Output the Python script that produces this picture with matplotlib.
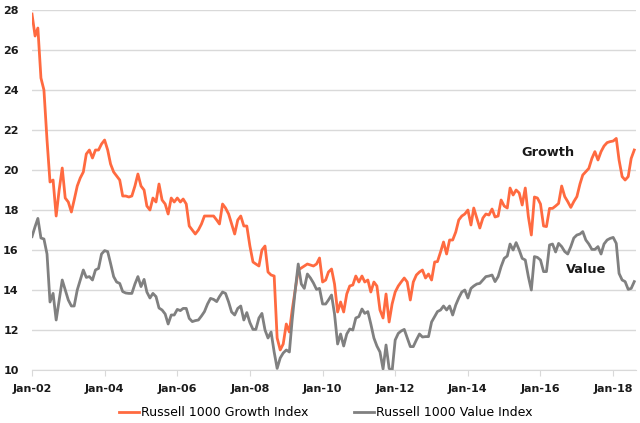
import matplotlib
matplotlib.use("Agg")
import matplotlib.pyplot as plt
import matplotlib.dates as mdates
import pandas as pd

# monthly values, Jan 2002 .. Aug 2018
growth = [
    27.8, 26.7, 27.1, 24.6, 24.0, 21.5, 19.4, 19.5, 17.7, 19.0, 20.1, 18.6,
    18.4, 17.9, 18.5, 19.2, 19.6, 19.9, 20.8, 21.0, 20.6, 21.0, 21.0, 21.3,
    21.5, 21.0, 20.3, 19.9, 19.7, 19.5, 18.7, 18.7, 18.65, 18.7, 19.2, 19.8,
    19.2, 19.0, 18.2, 18.0, 18.6, 18.4, 19.3, 18.5, 18.3, 17.8, 18.6, 18.4,
    18.6, 18.4, 18.55, 18.3, 17.2, 17.0, 16.8, 17.0, 17.3, 17.7, 17.7, 17.7,
    17.7, 17.5, 17.3, 18.3, 18.1, 17.8, 17.3, 16.8, 17.5, 17.7, 17.2, 17.2,
    16.2, 15.4, 15.3, 15.2, 16.0, 16.2, 14.9, 14.75, 14.7, 11.6, 11.0, 11.3,
    12.3, 11.9, 13.0, 14.0, 15.0, 15.1, 15.2, 15.3, 15.25, 15.2, 15.3, 15.6,
    14.4, 14.5, 14.9, 15.05, 14.3, 12.9, 13.4, 12.9, 13.8, 14.2, 14.25, 14.7,
    14.4, 14.7, 14.4, 14.5, 13.9, 14.4, 14.2, 13.0, 12.6, 13.8, 12.4, 13.3,
    13.9, 14.2, 14.4, 14.6, 14.4, 13.5, 14.4, 14.75, 14.9, 15.0, 14.6, 14.8,
    14.5, 15.4, 15.42, 15.9, 16.4, 15.8, 16.5, 16.5, 16.9, 17.5, 17.7, 17.8,
    18.0, 17.25, 18.1, 17.6, 17.1, 17.6, 17.8, 17.75, 18.05, 17.65, 17.7, 18.5,
    18.2, 18.1, 19.1, 18.75, 19.0, 18.85, 18.25, 19.1, 17.67, 16.75, 18.65, 18.6,
    18.3, 17.2, 17.17, 18.08, 18.08, 18.2, 18.33, 19.2, 18.67, 18.42, 18.13, 18.42,
    18.67, 19.3, 19.75, 19.92, 20.08, 20.58, 20.92, 20.5, 20.92, 21.2, 21.37, 21.42,
    21.45, 21.58, 20.5, 19.67, 19.5, 19.67, 20.58, 21.0,
]

value = [
    16.67, 17.17, 17.58, 16.6, 16.55, 15.8, 13.4, 13.83, 12.5, 13.5, 14.5, 14.0,
    13.5, 13.2, 13.2, 14.0, 14.5, 15.0, 14.63, 14.67, 14.5, 15.0, 15.08, 15.8,
    15.97, 15.92, 15.33, 14.67, 14.4, 14.33, 13.92, 13.85, 13.83, 13.83, 14.3, 14.67,
    14.17, 14.53, 13.9, 13.6, 13.83, 13.67, 13.1, 13.0, 12.8, 12.3, 12.75, 12.75,
    13.03, 12.97, 13.08, 13.08, 12.58, 12.42, 12.47, 12.5, 12.7, 12.92, 13.3, 13.58,
    13.53, 13.42, 13.67, 13.9, 13.83, 13.4, 12.9, 12.75, 13.08, 13.2, 12.5, 12.87,
    12.37, 12.03, 12.03, 12.6, 12.83, 12.0, 11.6, 11.9, 10.9, 10.08, 10.6, 10.85,
    11.0, 10.9, 12.5, 14.0, 15.3, 14.3, 14.08, 14.8, 14.6, 14.35, 14.03, 14.08,
    13.3, 13.3, 13.5, 13.75, 12.8, 11.3, 11.8, 11.2, 11.8, 12.05, 12.0, 12.6,
    12.67, 13.05, 12.83, 12.92, 12.3, 11.6, 11.2, 10.9, 10.05, 11.25, 10.08, 9.95,
    11.5, 11.83, 11.95, 12.03, 11.6, 11.17, 11.17, 11.5, 11.8, 11.65, 11.67, 11.67,
    12.4, 12.67, 12.92, 13.0, 13.2, 13.0, 13.2, 12.75, 13.25, 13.6, 13.9, 14.0,
    13.6, 14.08, 14.2, 14.3, 14.33, 14.5, 14.67, 14.7, 14.75, 14.42, 14.67, 15.17,
    15.58, 15.7, 16.3, 16.0, 16.37, 16.0, 15.58, 15.5, 14.67, 14.0, 15.67, 15.63,
    15.5, 14.92, 14.92, 16.25, 16.3, 15.9, 16.33, 16.17, 15.92, 15.8, 16.17, 16.6,
    16.75, 16.8, 16.92, 16.5, 16.3, 16.03, 16.03, 16.17, 15.8, 16.3, 16.5, 16.58,
    16.63, 16.33, 14.83, 14.5, 14.42, 14.03, 14.08, 14.42,
]

dates = pd.date_range("2002-01-01", periods=len(growth), freq="MS")
y_ticks = list(range(10, 30, 2))

orange = "#FF6A40"
grey = "#808080"
grid_c = "#D9D9D9"

fig = plt.figure(figsize=(6.4, 4.23), dpi=100)
ax = fig.add_axes([0.05, 0.1253, 0.944, 0.851])

ax.plot(dates, growth, color=orange, lw=2.0, label="Russell 1000 Growth Index")
ax.plot(dates, value, color=grey, lw=2.0, label="Russell 1000 Value Index")

ax.set_ylim(10, 28)
ax.set_yticks(y_ticks)
ax.set_xlim(pd.Timestamp("2002-01-01"), pd.Timestamp("2018-08-20"))
ax.xaxis.set_major_locator(mdates.YearLocator(2, month=1, day=1))
ax.xaxis.set_major_formatter(mdates.DateFormatter("%b-%y"))

ax.grid(axis="y", color=grid_c, lw=1)
ax.set_axisbelow(True)
for s in ["top", "right", "left"]:
    ax.spines[s].set_visible(False)
ax.spines["bottom"].set_color(grid_c)
ax.tick_params(axis="y", length=0, pad=9.5, labelsize=8, labelcolor="#1a1a1a")
ax.tick_params(axis="x", length=4, color=grid_c, pad=6, labelsize=8, labelcolor="#1a1a1a")
for lab in ax.get_xticklabels() + ax.get_yticklabels():
    lab.set_fontweight("bold")

ax.text(pd.Timestamp("2016-03-15"), 20.9, "Growth", fontsize=9.3, fontweight="bold",
        ha="center", va="center", color="#1a1a1a")
ax.text(pd.Timestamp("2017-04-01"), 15.05, "Value", fontsize=9.3, fontweight="bold",
        ha="center", va="center", color="#1a1a1a")

fig.legend(loc="center", bbox_to_anchor=(0.509, 0.024), ncol=2, frameon=False,
           fontsize=9, handlelength=1.6, handletextpad=0.1, columnspacing=3.7)

fig.savefig("out.png", dpi=100)
